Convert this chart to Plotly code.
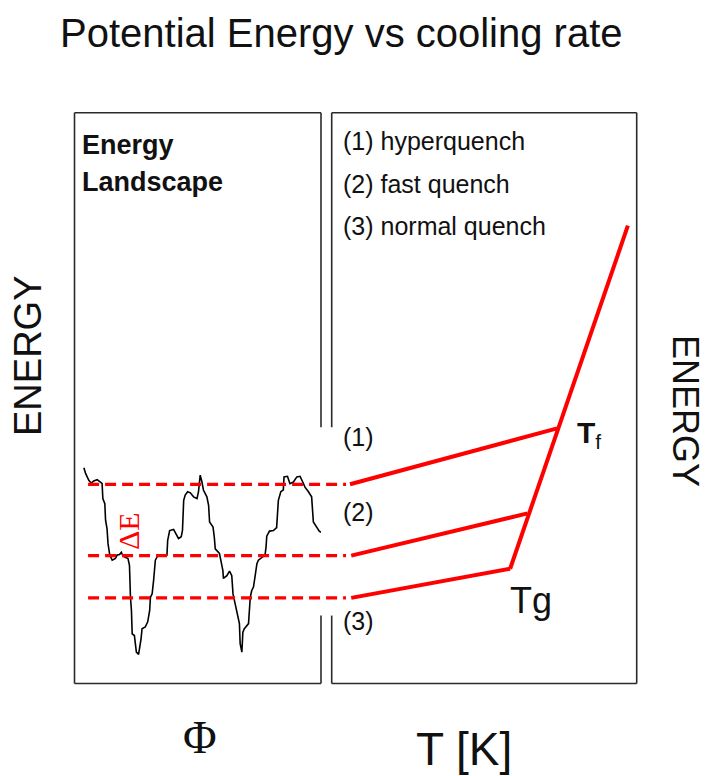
import plotly.graph_objects as go

# ---------------- data ----------------
# Energy landscape: configuration coordinate Phi (0-100) vs potential energy (0-100)
landscape_phi = [3.8, 4.5, 5.8, 6.8, 7.8, 9.2, 10.5, 11.2, 11.5, 12.3, 12.6, 13.2, 13.6, 14.3, 15.3,
                 16.6, 17.3, 18.3, 19.0, 19.7, 20.6, 21.7, 22.3, 22.4, 22.7, 23.1, 23.4, 24.3, 24.7,
                 25.1, 26.0, 26.4, 27.0, 27.4, 28.7, 29.7, 30.5, 30.8, 31.5, 32.1, 32.8, 33.7, 34.8,
                 36.2, 37.5, 37.8, 38.6, 40.2, 41.3, 42.2, 43.3, 43.8, 44.3, 44.9, 45.9, 47.0, 48.3,
                 49.7, 50.3, 51.0, 51.7, 52.3, 53.7, 54.4, 54.8, 56.2, 56.7, 57.1, 58.8, 59.4, 60.2,
                 60.4, 61.8, 62.9, 63.8, 64.3, 65.2, 66.1, 66.9, 67.2, 67.9, 68.3, 68.9, 70.6, 71.3,
                 71.9, 72.6, 73.3, 74.0, 74.6, 76.0, 77.3, 77.7, 78.0, 79.1, 80.7, 82.0, 82.3, 82.7,
                 83.7, 84.7, 85.0, 86.4, 87.4, 88.8, 90.2, 91.5, 92.6, 93.5, 94.9, 96.2, 96.9, 98.3,
                 99.3, 100.0]
landscape_E = [37.8, 36.8, 35.6, 35.1, 35.5, 35.7, 35.3, 35.0, 32.4, 31.5, 28.6, 27.1, 24.5, 22.5, 21.6,
               21.9, 22.5, 22.6, 23.0, 22.3, 22.1, 21.9, 20.7, 18.1, 15.1, 12.8, 8.7, 8.4, 6.4,
               5.5, 5.1, 6.1, 7.8, 9.6, 9.9, 10.8, 12.8, 15.1, 15.7, 18.1, 21.6, 22.3, 22.4,
               22.3, 22.5, 25.1, 26.8, 27.0, 26.0, 25.4, 25.7, 26.8, 32.1, 33.0, 33.6, 33.4, 32.7,
               32.4, 33.6, 36.5, 35.3, 33.9, 32.7, 31.2, 28.3, 27.4, 25.7, 23.6, 22.8, 21.3, 19.8,
               18.4, 18.9, 19.7, 18.9, 15.7, 13.7, 12.2, 10.5, 7.0, 5.5, 9.0, 9.6, 10.5, 15.1,
               16.3, 16.9, 18.9, 21.0, 21.6, 22.1, 22.5, 23.9, 25.8, 26.7, 26.8, 27.3, 29.2, 32.1,
               33.6, 33.9, 36.2, 36.3, 35.0, 35.3, 36.2, 36.3, 35.3, 34.4, 33.6, 32.7, 28.3, 27.3,
               26.7, 26.5]

# Energy levels reached by the three quenches
quench_labels = ["(1)", "(2)", "(3)"]
quench_names = ["(1) hyperquench", "(2) fast quench", "(3) normal quench"]
level_E = [34.9, 22.4, 15.0]
level_phi_start = 5.5
level_phi_end = 110.0

# Glass branches in the T panel (T in 0-100 units)
glass_T_start = [6.0, 6.4, 6.4]
glass_T_end = [73.9, 64.2, 58.5]
glass_E_end = [44.7, 29.8, 20.1]

# Liquid (equilibrium) branch
liquid_T = [58.5, 97.1]
liquid_E = [20.1, 80.2]

# ---------------- figure ----------------
W, H = 707, 776


def fx(p):
    return p / W


def fy(p):
    return 1 - p / H


RED = "#ff0000"
INK = "#111111"
SANS = "Liberation Sans, Arial, sans-serif"
SERIF = "Liberation Serif, Times New Roman, serif"

fig = go.Figure()

# landscape curve
fig.add_trace(go.Scatter(x=landscape_phi, y=landscape_E, mode="lines",
                         line=dict(color="#000000", width=1.6),
                         xaxis="x", yaxis="y", hoverinfo="skip"))

# dashed energy levels (span left panel and the gap)
for e in level_E:
    fig.add_trace(go.Scatter(x=[level_phi_start, level_phi_end], y=[e, e], mode="lines",
                             line=dict(color=RED, width=3.2, dash="11px,6px"),
                             xaxis="x3", yaxis="y", hoverinfo="skip"))

# glass branches
for ts, te, es, ee in zip(glass_T_start, glass_T_end, level_E, glass_E_end):
    fig.add_trace(go.Scatter(x=[ts, te], y=[es, ee], mode="lines",
                             line=dict(color=RED, width=4),
                             xaxis="x2", yaxis="y", hoverinfo="skip"))

# liquid branch
fig.add_trace(go.Scatter(x=liquid_T, y=liquid_E, mode="lines",
                         line=dict(color=RED, width=4),
                         xaxis="x2", yaxis="y", hoverinfo="skip"))

ax_common = dict(visible=False, showgrid=False, zeroline=False, fixedrange=True)
left_dom = [fx(74.5), fx(321.0)]
right_dom = [fx(331.7), fx(636.7)]
y_dom = [fy(683.5), fy(112.7)]

fig.update_layout(
    width=W, height=H, autosize=False,
    margin=dict(l=0, r=0, t=0, b=0),
    paper_bgcolor="white", plot_bgcolor="rgba(0,0,0,0)",
    showlegend=False,
    xaxis=dict(domain=left_dom, range=[0, 100], anchor="y", **ax_common),
    xaxis2=dict(domain=right_dom, range=[0, 100], anchor="y", **ax_common),
    xaxis3=dict(domain=[fx(74.5), fx(346.0)], range=[0, 110], anchor="y", **ax_common),
    yaxis=dict(domain=y_dom, range=[0, 100], anchor="x", **ax_common),
)

# panel borders (inner borders interrupted where the quench lines cross)
gap_lo, gap_hi = 0.119, 0.449
bl = dict(color="#2a2a2a", width=1.6)
segs_left = [((0, 0), (0, 1)), ((0, 1), (1, 1)), ((0, 0), (1, 0)),
             ((1, 0), (1, gap_lo)), ((1, gap_hi), (1, 1))]
segs_right = [((0, 1), (1, 1)), ((0, 0), (1, 0)), ((1, 0), (1, 1)),
              ((0, 0), (0, gap_lo)), ((0, gap_hi), (0, 1))]
for (x0, y0), (x1, y1) in segs_left:
    fig.add_shape(type="line", xref="x domain", yref="y domain",
                  x0=x0, y0=y0, x1=x1, y1=y1, line=bl)
for (x0, y0), (x1, y1) in segs_right:
    fig.add_shape(type="line", xref="x2 domain", yref="y domain",
                  x0=x0, y0=y0, x1=x1, y1=y1, line=bl)


def ann(text, x, y, size, xanchor="center", yanchor="middle", angle=0,
        family=SANS, color=INK):
    fig.add_annotation(text=text, x=fx(x), y=fy(y), xref="paper", yref="paper",
                       xanchor=xanchor, yanchor=yanchor, textangle=angle,
                       showarrow=False, font=dict(family=family, size=size, color=color))


ann("Potential Energy vs cooling rate", 341, 33, 40)
ann("<b>Energy</b>", 80, 145, 27, xanchor="left")
ann("<b>Landscape</b>", 80, 182, 27, xanchor="left")
for i, name in enumerate(quench_names):
    ann(name, 341, [141, 184, 226][i], 25, xanchor="left")
for i, lab in enumerate(quench_labels):
    ann(lab, 341, [437, 512, 621][i], 25, xanchor="left")
ann("<b>T</b><sub>f</sub>", 575, 434, 30, xanchor="left")
ann("Tg", 508, 600, 36, xanchor="left")
ann("ENERGY", 28, 356, 38, angle=-90)
ann("ENERGY", 686, 411, 36, angle=90)
ann("\u03a6", 200, 737, 46, family=SERIF)
ann("T [K]", 464, 749, 46)
ann("\u0394E", 128, 531, 30, angle=-90, family=SERIF, color=RED)

fig.write_html("out.html", config={"displayModeBar": False},
               post_script="document.body.style.margin='0px';")
